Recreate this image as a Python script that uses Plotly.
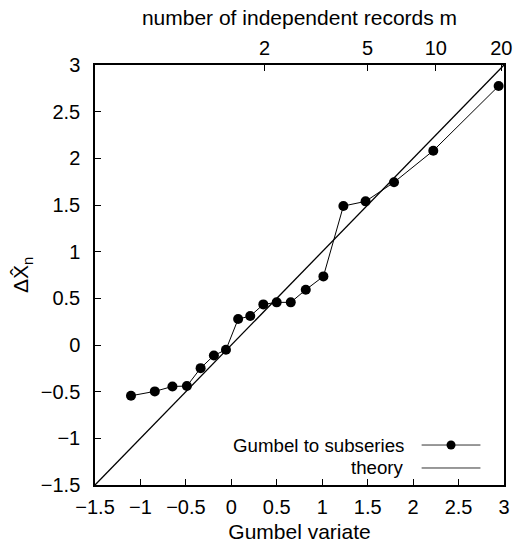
import numpy as np
import plotly.graph_objects as go

# Gumbel plot of subseries maxima against the reduced variate
gumbel_variate = [-1.104, -0.842, -0.648, -0.489, -0.338, -0.192, -0.059,
                  0.075, 0.208, 0.352, 0.499, 0.654, 0.819, 1.013,
                  1.233, 1.477, 1.790, 2.222, 2.941]
delta_x = [-0.544, -0.497, -0.444, -0.440, -0.248, -0.112, -0.051,
           0.278, 0.310, 0.435, 0.457, 0.457, 0.592, 0.735,
           1.489, 1.539, 1.743, 2.082, 2.775]

theory_x = [-1.5, 3.0]
theory_y = [-1.5, 3.0]

# secondary (top) axis: number of independent records m
m_ticks = [2, 5, 10, 20]
m_positions = [-np.log(-np.log(1 - 1 / m)) for m in m_ticks]

x_ticks = [-1.5, -1, -0.5, 0, 0.5, 1, 1.5, 2, 2.5, 3]
y_ticks = [-1.5, -1, -0.5, 0, 0.5, 1, 1.5, 2, 2.5, 3]

legend_labels = ["Gumbel to subseries", "theory"]

FONT = "Liberation Sans, Arial, Helvetica, sans-serif"

fig = go.Figure()

fig.add_trace(go.Scatter(
    x=theory_x, y=theory_y, mode="lines",
    line=dict(color="black", width=1.3),
    showlegend=False, hoverinfo="skip",
))

fig.add_trace(go.Scatter(
    x=gumbel_variate, y=delta_x, mode="lines+markers",
    line=dict(color="black", width=1),
    marker=dict(color="black", size=10),
    showlegend=False,
))

# empty trace so the top axis is rendered
fig.add_trace(go.Scatter(x=[None], y=[None], xaxis="x2",
                         showlegend=False, hoverinfo="skip"))

axis_common = dict(
    showgrid=False, zeroline=False, showline=True,
    linecolor="black", linewidth=1.5,
    ticks="inside", ticklen=6, tickwidth=1.2, tickcolor="black",
    tickfont=dict(size=20, color="black", family=FONT),
)

fig.update_layout(
    width=520, height=549,
    margin=dict(l=95, r=8, t=65, b=64),
    paper_bgcolor="white", plot_bgcolor="white",
    font=dict(family=FONT, size=20, color="black"),
    showlegend=False,
    xaxis=dict(
        range=[-1.5, 3], tickvals=x_ticks,
        ticktext=[f"{v:g}".replace("-", "\u2212") for v in x_ticks],
        mirror=False, ticklabelstandoff=3,
        title=dict(text="Gumbel variate", font=dict(size=21), standoff=8),
        **axis_common,
    ),
    xaxis2=dict(
        overlaying="x", side="top", range=[-1.5, 3],
        tickvals=m_positions, ticktext=[str(m) for m in m_ticks],
        ticklabelstandoff=0,
        title=dict(text="number of independent records m", font=dict(size=21), standoff=6),
        **axis_common,
    ),
    yaxis=dict(
        range=[-1.5, 3], tickvals=y_ticks,
        ticktext=[f"{v:g}".replace("-", "\u2212") for v in y_ticks],
        mirror=True, ticklabelstandoff=9,
        title=dict(text="\u0394X\u0302<sub>n</sub>", font=dict(size=21), standoff=6),
        **axis_common,
    ),
)

# legend drawn with the sample on the right of each label
leg_text_x = 0.7595
leg_line_x0, leg_line_x1 = 0.7986, 0.9424
leg_rows_y = [0.0952, 0.0405]
for label, ly in zip(legend_labels, leg_rows_y):
    fig.add_annotation(
        x=leg_text_x, y=ly, xref="paper", yref="paper",
        text=label, showarrow=False, xanchor="right", yanchor="middle",
        font=dict(size=18.7, color="black", family=FONT),
    )
    fig.add_shape(
        type="line", xref="paper", yref="paper",
        x0=leg_line_x0, x1=leg_line_x1, y0=ly, y1=ly,
        line=dict(color="#333333", width=1),
    )
fig.add_shape(
    type="circle", xref="paper", yref="paper",
    xsizemode="pixel", ysizemode="pixel",
    xanchor=(leg_line_x0 + leg_line_x1) / 2, yanchor=leg_rows_y[0],
    x0=-4.5, x1=4.5, y0=-4.5, y1=4.5,
    fillcolor="black", line=dict(color="black", width=0),
)

fig.write_html("out.html")
